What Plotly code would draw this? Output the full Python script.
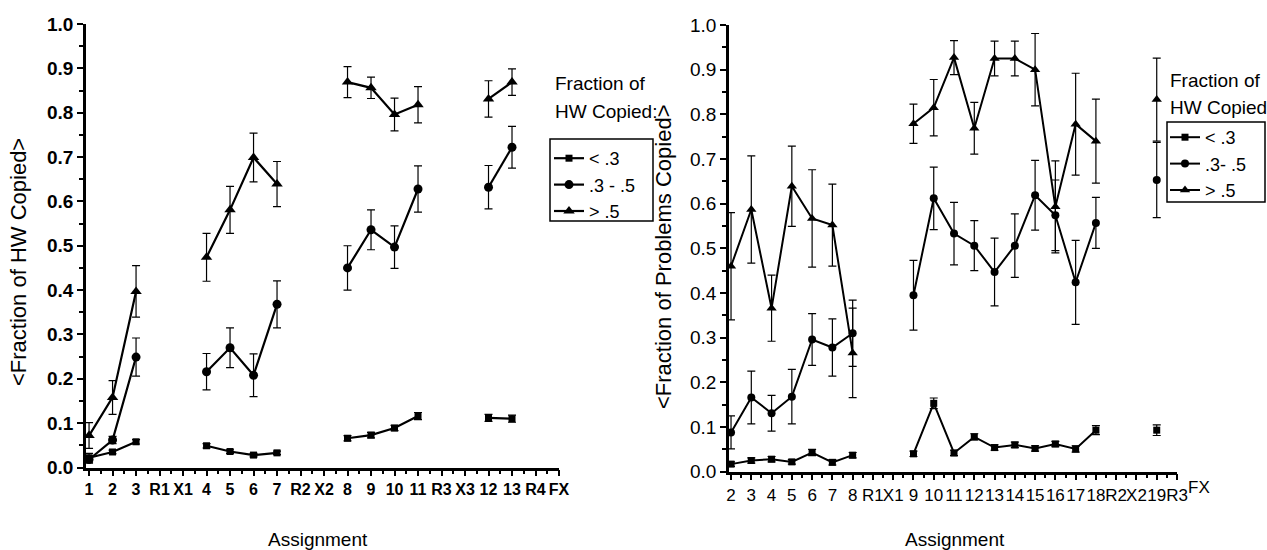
import plotly.graph_objects as go

# ---- Homework copied (left panel) ----
hw_assign = ["1", "2", "3", "R1", "X1", "4", "5", "6", "7", "R2", "X2",
             "8", "9", "10", "11", "R3", "X3", "12", "13", "R4", "FX"]
hw_low = [0.022, 0.035, 0.058, None, None, 0.049, 0.036, 0.028, 0.033, None, None,
          0.066, 0.073, 0.089, 0.116, None, None, 0.112, 0.110, None, None]
hw_low_err = [0.010, 0.004, 0.005, None, None, 0.005, 0.004, 0.004, 0.004, None, None,
              0.006, 0.006, 0.006, 0.008, None, None, 0.008, 0.008, None, None]
hw_mid = [0.018, 0.062, 0.249, None, None, 0.216, 0.270, 0.208, 0.368, None, None,
          0.450, 0.536, 0.497, 0.628, None, None, 0.632, 0.722, None, None]
hw_mid_err = [0.008, 0.008, 0.043, None, None, 0.041, 0.045, 0.048, 0.053, None, None,
              0.050, 0.045, 0.048, 0.052, None, None, 0.049, 0.047, None, None]
hw_high = [0.072, 0.158, 0.397, None, None, 0.474, 0.581, 0.699, 0.639, None, None,
           0.869, 0.856, 0.796, 0.818, None, None, 0.831, 0.869, None, None]
hw_high_err = [0.029, 0.038, 0.058, None, None, 0.054, 0.053, 0.055, 0.051, None, None,
               0.035, 0.024, 0.037, 0.041, None, None, 0.041, 0.030, None, None]

# ---- Problems copied (right panel) ----
pr_assign = ["2", "3", "4", "5", "6", "7", "8", "R1", "X1", "9", "10", "11", "12",
             "13", "14", "15", "16", "17", "18", "R2", "X2", "19", "R3", "FX"]
pr_low = [0.017, 0.025, 0.028, 0.022, 0.043, 0.021, 0.037, None, None, 0.040, 0.153,
          0.042, 0.078, 0.054, 0.060, 0.052, 0.062, 0.051, 0.093, None, None, 0.093, None, None]
pr_low_err = [0.005, 0.006, 0.006, 0.005, 0.007, 0.006, 0.006, None, None, 0.006, 0.012,
              0.006, 0.007, 0.006, 0.006, 0.006, 0.006, 0.007, 0.010, None, None, 0.012, None, None]
pr_mid = [0.088, 0.166, 0.131, 0.168, 0.296, 0.278, 0.310, None, None, 0.395, 0.612,
          0.533, 0.506, 0.447, 0.506, 0.619, 0.574, 0.424, 0.557, None, None, 0.653, None, None]
pr_mid_err = [0.037, 0.059, 0.040, 0.061, 0.058, 0.064, 0.074, None, None, 0.078, 0.070,
              0.070, 0.056, 0.076, 0.071, 0.078, 0.079, 0.094, 0.057, None, None, 0.084, None, None]
pr_high = [0.460, 0.587, 0.366, 0.639, 0.567, 0.552, 0.266, None, None, 0.779, 0.815,
           0.927, 0.769, 0.925, 0.925, 0.900, 0.593, 0.778, 0.740, None, None, 0.833, None, None]
pr_high_err = [0.120, 0.120, 0.074, 0.090, 0.109, 0.092, 0.100, None, None, 0.044, 0.063,
               0.038, 0.058, 0.039, 0.039, 0.081, 0.103, 0.114, 0.094, None, None, 0.093, None, None]

group_names = ["< .3", ".3 - .5", "> .5"]
group_names_right = ["< .3", ".3- .5", "> .5"]
symbols = ["square", "circle", "triangle-up"]

W, H = 1267, 550
FONT = "Liberation Sans, Arial, sans-serif"


def px_x(p):
    return p / W


def px_y(p):
    return (H - p) / H


fig = go.Figure()


def add_series(cats, vals, errs, symbol, size, name, xa, ya, legend, lw):
    fig.add_trace(go.Scatter(
        x=list(range(len(cats))), y=vals, name=name,
        mode="lines+markers", connectgaps=False, cliponaxis=False,
        xaxis=xa, yaxis=ya, legend=legend,
        line=dict(color="black", width=lw),
        marker=dict(symbol=symbol, size=size, color="black"),
        error_y=dict(type="data", array=errs, visible=True,
                     color="black", thickness=1.2, width=4),
    ))


left_sets = [(hw_low, hw_low_err), (hw_mid, hw_mid_err), (hw_high, hw_high_err)]
right_sets = [(pr_low, pr_low_err), (pr_mid, pr_mid_err), (pr_high, pr_high_err)]
sizes_left = [7, 9, 10]
sizes_right = [7, 8, 9]

for i, (v, e) in enumerate(left_sets):
    add_series(hw_assign, v, e, symbols[i], sizes_left[i], group_names[i],
               "x", "y", "legend", 2.2)
for i, (v, e) in enumerate(right_sets):
    add_series(pr_assign, v, e, symbols[i], sizes_right[i], group_names_right[i],
               "x2", "y2", "legend2", 2)

axis_common = dict(
    showline=True, linecolor="black", linewidth=2.5, showgrid=False, zeroline=False,
    ticks="outside", tickcolor="black", tickwidth=2, ticklen=6,
)

# last ticked category on the right axis is R3; FX is written past the axis end
right_ticks = list(range(len(pr_assign) - 1))

legend_common = dict(
    xanchor="left", yanchor="top", borderwidth=0, bgcolor="rgba(0,0,0,0)",
    font=dict(size=18, family=FONT), itemwidth=30, tracegroupgap=0,
    traceorder="normal",
)

fig.update_layout(
    width=W, height=H, margin=dict(l=0, r=0, t=0, b=0, autoexpand=False),
    paper_bgcolor="white", plot_bgcolor="white",
    font=dict(family=FONT, color="black"),
    xaxis=dict(
        **axis_common, domain=[px_x(86), px_x(559)], anchor="y",
        range=[-0.13, len(hw_assign) - 1],
        tickmode="array", tickvals=list(range(len(hw_assign))), ticktext=hw_assign,
        tickangle=0, tickfont=dict(size=16, family=FONT, weight="bold"),
        minor=dict(ticks="outside", ticklen=4, tickwidth=1.5, tickcolor="black",
                   tickmode="array",
                   tickvals=[i + 0.5 for i in range(len(hw_assign) - 1)]),
    ),
    yaxis=dict(
        **axis_common, domain=[px_y(467.5), px_y(24)], anchor="x",
        range=[0, 1.0], dtick=0.1, tick0=0, tickformat=".1f",
        tickfont=dict(size=19, family=FONT, weight="bold"),
        minor=dict(ticks="outside", ticklen=4, tickwidth=1.5, tickcolor="black", dtick=0.05),
    ),
    xaxis2=dict(
        **axis_common, domain=[px_x(729), px_x(1177)], anchor="y2",
        range=[-0.1, len(pr_assign) - 2],
        tickmode="array", tickvals=right_ticks, ticktext=pr_assign[:-1],
        tickangle=0, tickfont=dict(size=17, family=FONT),
        minor=dict(ticks="outside", ticklen=4, tickwidth=1.5, tickcolor="black",
                   tickmode="array",
                   tickvals=[i + 0.5 for i in range(len(pr_assign) - 2)]),
    ),
    yaxis2=dict(
        **axis_common, domain=[px_y(471.7), px_y(25)], anchor="x2",
        range=[0, 1.0], dtick=0.1, tick0=0, tickformat=".1f",
        tickfont=dict(size=19, family=FONT),
        minor=dict(ticks="outside", ticklen=4, tickwidth=1.5, tickcolor="black", dtick=0.05),
    ),
    legend=dict(**legend_common, x=px_x(549), y=px_y(140)),
    legend2=dict(**legend_common, x=px_x(1165), y=px_y(119)),
    showlegend=True,
)

# frames around the legend entries (headings sit above, outside the frame)
fig.add_shape(type="rect", xref="paper", yref="paper",
              x0=px_x(550), x1=px_x(653), y0=px_y(221), y1=px_y(139),
              line=dict(color="black", width=1.5))
fig.add_shape(type="rect", xref="paper", yref="paper",
              x0=px_x(1167), x1=px_x(1265), y0=px_y(202), y1=px_y(122),
              line=dict(color="black", width=1.5))

annotations = [
    # axis titles
    dict(text="&lt;Fraction of HW Copied&gt;", x=px_x(18), y=px_y(262), textangle=-90,
         font=dict(size=22)),
    dict(text="&lt;Fraction of Problems Copied&gt;", x=px_x(663), y=px_y(257), textangle=-90,
         font=dict(size=22)),
    dict(text="Assignment", x=px_x(318), y=px_y(539), font=dict(size=19)),
    dict(text="Assignment", x=px_x(955), y=px_y(539), font=dict(size=19)),
    # legend headings
    dict(text="Fraction of", x=px_x(553), y=px_y(84), xanchor="left", font=dict(size=19)),
    dict(text="HW Copied:", x=px_x(553), y=px_y(112), xanchor="left", font=dict(size=19)),
    dict(text="Fraction of", x=px_x(1168), y=px_y(80), xanchor="left", font=dict(size=19)),
    dict(text="HW Copied", x=px_x(1168), y=px_y(107), xanchor="left", font=dict(size=19)),
    # FX label written past the end of the right-hand axis
    dict(text=pr_assign[-1], x=px_x(1199), y=px_y(488), font=dict(size=17)),
]
for a in annotations:
    a.setdefault("xanchor", "center")
    a.update(xref="paper", yref="paper", yanchor="middle", showarrow=False)
    a["font"].update(family=FONT, color="black")
    fig.add_annotation(**a)

fig.write_html("out.html")
